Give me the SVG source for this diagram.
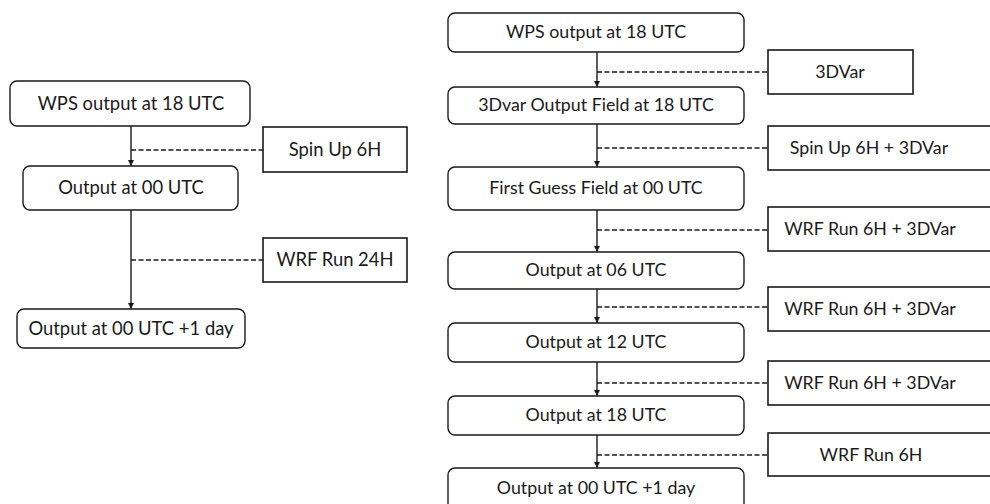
<svg xmlns="http://www.w3.org/2000/svg" width="990" height="504" viewBox="0 0 990 504">
  <style>
    .step { fill: #fff; stroke: #1a1a1a; stroke-width: 1.4; }
    .side { fill: #fff; stroke: #1a1a1a; stroke-width: 1.6; }
    .flow { fill: none; stroke: #1a1a1a; stroke-width: 1.4; }
    .dash { fill: none; stroke: #1a1a1a; stroke-width: 1.4; stroke-dasharray: 5 2.5; }
    text { font-family: Lato, "Open Sans", "Liberation Sans", sans-serif; fill: #1a1a1a; text-anchor: middle; }
    .l { font-size: 18.4px; }
    .r { font-size: 17.8px; }
  </style>
  <defs>
    <marker id="arrow" viewBox="0 0 6 6" refX="6" refY="3" markerWidth="6" markerHeight="6" markerUnits="userSpaceOnUse" orient="auto">
      <path d="M0,0 L6,3 L0,6 Z" fill="#1a1a1a"/>
    </marker>
  </defs>
  <rect width="990" height="504" fill="#fff"/>

  <!-- connectors -->
  <g id="connectors">
    <!-- left chain -->
    <line class="flow" x1="131" y1="126" x2="131" y2="166" marker-end="url(#arrow)"/>
    <line class="flow" x1="131" y1="210" x2="131" y2="309" marker-end="url(#arrow)"/>
    <line class="dash" x1="131" y1="150" x2="263" y2="150"/>
    <line class="dash" x1="131" y1="260" x2="263" y2="260"/>
    <!-- right chain -->
    <line class="flow" x1="597" y1="52" x2="597" y2="87" marker-end="url(#arrow)"/>
    <line class="flow" x1="597" y1="124" x2="597" y2="167" marker-end="url(#arrow)"/>
    <line class="flow" x1="597" y1="210" x2="597" y2="252" marker-end="url(#arrow)"/>
    <line class="flow" x1="597" y1="289" x2="597" y2="323" marker-end="url(#arrow)"/>
    <line class="flow" x1="597" y1="362" x2="597" y2="396" marker-end="url(#arrow)"/>
    <line class="flow" x1="597" y1="435" x2="597" y2="468" marker-end="url(#arrow)"/>
    <line class="dash" x1="597" y1="72" x2="768" y2="72"/>
    <line class="dash" x1="597" y1="148" x2="768" y2="148"/>
    <line class="dash" x1="597" y1="230" x2="768" y2="230"/>
    <line class="dash" x1="597" y1="307" x2="768" y2="307"/>
    <line class="dash" x1="597" y1="383" x2="768" y2="383"/>
    <line class="dash" x1="597" y1="455" x2="768" y2="455"/>
  </g>

  <!-- left flow -->
  <g id="l-wps">
    <rect class="step" x="10" y="81" width="240" height="45" rx="7"/>
    <text class="l" x="131" y="110">WPS output at 18 UTC</text>
  </g>
  <g id="l-out00">
    <rect class="step" x="23" y="166" width="215" height="44" rx="7"/>
    <text class="l" x="131" y="194">Output at 00 UTC</text>
  </g>
  <g id="l-out00d1">
    <rect class="step" x="17" y="309" width="228" height="39" rx="7"/>
    <text class="l" x="131" y="335">Output at 00 UTC +1 day</text>
  </g>
  <g id="l-spinup">
    <rect class="side" x="263" y="127" width="144" height="45"/>
    <text class="l" x="335" y="156">Spin Up 6H</text>
  </g>
  <g id="l-wrf24">
    <rect class="side" x="263" y="238" width="144" height="44"/>
    <text class="l" x="335" y="266">WRF Run 24H</text>
  </g>

  <!-- right flow -->
  <g id="r-wps">
    <rect class="step" x="448" y="13" width="296" height="39" rx="7"/>
    <text class="r" x="596" y="38">WPS output at 18 UTC</text>
  </g>
  <g id="r-3dvar-out">
    <rect class="step" x="448" y="87" width="296" height="37" rx="7"/>
    <text class="r" x="596" y="111">3Dvar Output Field at 18 UTC</text>
  </g>
  <g id="r-first-guess">
    <rect class="step" x="448" y="167" width="296" height="43" rx="7"/>
    <text class="r" x="596" y="194">First Guess Field at 00 UTC</text>
  </g>
  <g id="r-out06">
    <rect class="step" x="448" y="252" width="296" height="37" rx="7"/>
    <text class="r" x="596" y="276">Output at 06 UTC</text>
  </g>
  <g id="r-out12">
    <rect class="step" x="448" y="323" width="296" height="39" rx="7"/>
    <text class="r" x="596" y="348">Output at 12 UTC</text>
  </g>
  <g id="r-out18">
    <rect class="step" x="448" y="396" width="296" height="39" rx="7"/>
    <text class="r" x="596" y="421">Output at 18 UTC</text>
  </g>
  <g id="r-out00d1">
    <rect class="step" x="448" y="468" width="296" height="44" rx="7"/>
    <text class="r" x="596" y="494">Output at 00 UTC +1 day</text>
  </g>
  <g id="r-3dvar">
    <rect class="side" x="768" y="50" width="145" height="44"/>
    <text class="r" x="840" y="78">3DVar</text>
  </g>
  <g id="r-spinup">
    <rect class="side" x="768" y="126" width="240" height="44"/>
    <text class="r" x="869" y="154">Spin Up 6H + 3DVar</text>
  </g>
  <g id="r-wrf1">
    <rect class="side" x="768" y="207" width="240" height="44"/>
    <text class="r" x="870" y="235">WRF Run 6H + 3DVar</text>
  </g>
  <g id="r-wrf2">
    <rect class="side" x="768" y="287" width="240" height="44"/>
    <text class="r" x="870" y="315">WRF Run 6H + 3DVar</text>
  </g>
  <g id="r-wrf3">
    <rect class="side" x="768" y="361" width="240" height="44"/>
    <text class="r" x="870" y="389">WRF Run 6H + 3DVar</text>
  </g>
  <g id="r-wrf6">
    <rect class="side" x="768" y="433" width="240" height="43"/>
    <text class="r" x="871" y="461">WRF Run 6H</text>
  </g>
</svg>
